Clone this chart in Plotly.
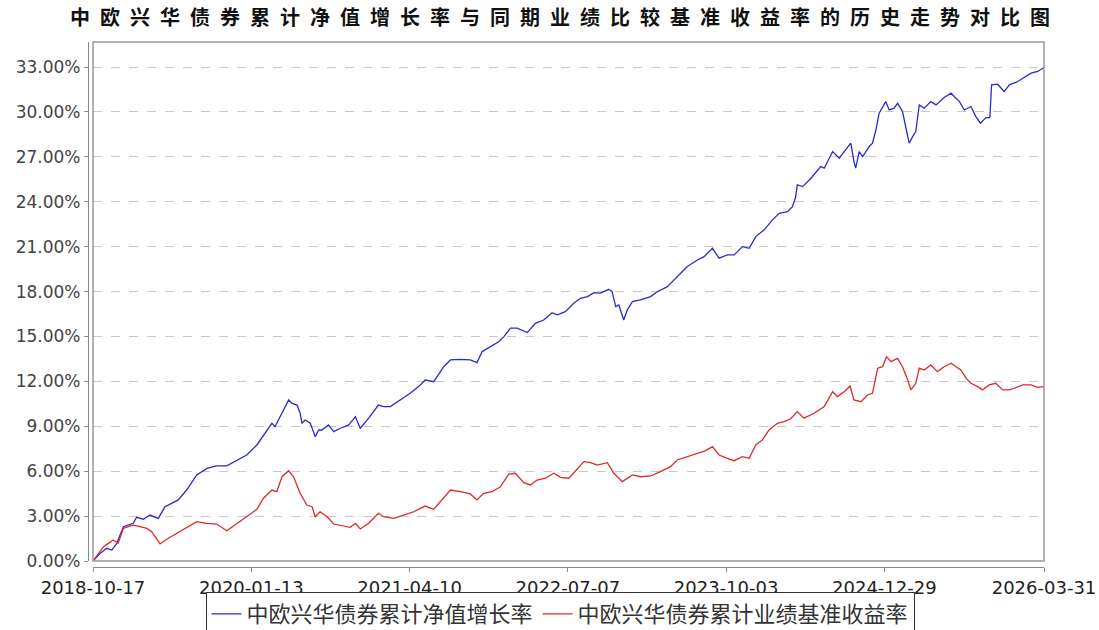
import plotly.graph_objects as go

title_text = "中欧兴华债券累计净值增长率与同期业绩比较基准收益率的历史走势对比图"
name_fund = "中欧兴华债券累计净值增长率"
name_bench = "中欧兴华债券累计业绩基准收益率"

fund_dates = [
    "2018-10-17", "2018-11-06", "2018-11-25", "2018-12-10", "2018-12-24", "2019-01-12", "2019-02-09",
    "2019-02-19", "2019-03-10", "2019-03-29", "2019-04-22", "2019-05-11", "2019-05-30", "2019-06-18",
    "2019-07-12", "2019-08-10", "2019-09-08", "2019-10-06", "2019-11-04", "2019-12-03", "2019-12-31",
    "2020-01-29", "2020-02-22", "2020-03-12", "2020-03-21", "2020-04-10", "2020-04-29", "2020-05-08",
    "2020-05-23", "2020-06-01", "2020-06-06", "2020-06-15", "2020-06-30", "2020-07-14", "2020-07-24",
    "2020-08-02", "2020-08-21", "2020-09-05", "2020-09-24", "2020-10-18", "2020-11-06", "2020-11-20",
    "2020-12-14", "2021-01-11", "2021-01-26", "2021-02-14", "2021-03-15", "2021-04-12", "2021-05-06",
    "2021-05-25", "2021-06-18", "2021-07-17", "2021-08-05", "2021-09-03", "2021-10-01", "2021-10-20",
    "2021-11-04", "2021-11-28", "2021-12-21", "2022-01-05", "2022-01-24", "2022-02-12", "2022-03-13",
    "2022-04-05", "2022-04-29", "2022-05-23", "2022-06-07", "2022-06-30", "2022-07-24", "2022-08-12",
    "2022-09-01", "2022-09-20", "2022-10-09", "2022-11-01", "2022-11-11", "2022-11-21", "2022-11-30",
    "2022-12-14", "2022-12-24", "2023-01-08", "2023-01-31", "2023-03-01", "2023-03-20", "2023-04-18",
    "2023-05-16", "2023-06-14", "2023-07-13", "2023-08-01", "2023-08-25", "2023-09-13", "2023-10-07",
    "2023-10-26", "2023-11-19", "2023-12-08", "2023-12-27", "2024-01-20", "2024-02-13", "2024-03-03",
    "2024-03-27", "2024-04-10", "2024-04-19", "2024-04-24", "2024-05-09", "2024-06-02", "2024-06-30",
    "2024-07-10", "2024-08-03", "2024-08-22", "2024-09-05", "2024-09-24", "2024-10-03", "2024-10-08",
    "2024-10-18", "2024-10-28", "2024-11-16", "2024-11-25", "2024-12-05", "2024-12-14", "2025-01-02",
    "2025-01-12", "2025-01-26", "2025-02-05", "2025-02-19", "2025-03-01", "2025-03-10", "2025-03-20",
    "2025-03-29", "2025-04-08", "2025-04-22", "2025-05-11", "2025-05-26", "2025-06-18", "2025-07-08",
    "2025-07-17", "2025-08-01", "2025-08-15", "2025-09-03", "2025-09-17", "2025-09-30", "2025-10-16",
    "2025-10-27", "2025-11-01", "2025-11-18", "2025-12-07", "2025-12-22", "2026-01-15", "2026-01-29",
    "2026-02-22", "2026-03-13", "2026-03-31",
]
fund_values = [
    0.0, 0.5, 0.85, 0.73, 1.18, 2.29, 2.52,
    2.92, 2.79, 3.07, 2.85, 3.63, 3.85, 4.08,
    4.74, 5.75, 6.19, 6.35, 6.35, 6.75, 7.08,
    7.75, 8.53, 9.2, 8.97, 9.87, 10.76, 10.54,
    10.42, 9.87, 9.2, 9.42, 9.2, 8.31, 8.75,
    8.75, 9.09, 8.64, 8.87, 9.09, 9.64, 8.87,
    9.54, 10.42, 10.31, 10.31, 10.76, 11.2, 11.65,
    12.09, 11.98, 12.98, 13.43, 13.47, 13.43, 13.25,
    13.99, 14.32, 14.65, 14.99, 15.55, 15.55, 15.26,
    15.88, 16.1, 16.59, 16.44, 16.66, 17.22, 17.55,
    17.66, 17.93, 17.89, 18.15, 17.99, 16.99, 17.1,
    16.1, 16.77, 17.33, 17.44, 17.66, 17.99, 18.33,
    19.0, 19.67, 20.11, 20.33, 20.89, 20.23, 20.45,
    20.45, 21.0, 20.89, 21.67, 22.12, 22.79, 23.23,
    23.34, 23.67, 24.3, 25.12, 25.01, 25.57, 26.35,
    26.24, 27.35, 26.91, 27.35, 27.91, 26.68, 26.24,
    27.35, 27.02, 27.69, 27.91, 28.8, 29.92, 30.69,
    30.13, 30.25, 30.58, 30.02, 29.02, 27.91, 28.35,
    28.69, 30.47, 30.25, 30.69, 30.47, 30.96, 31.25,
    31.03, 30.69, 30.13, 30.36, 29.69, 29.25, 29.62,
    29.62, 31.81, 31.85, 31.36, 31.81, 32.03, 32.25,
    32.59, 32.7, 32.96,
]

bench_dates = [
    "2018-10-17", "2018-11-01", "2018-11-16", "2018-11-30", "2018-12-14", "2018-12-28", "2019-01-12",
    "2019-01-26", "2019-02-09", "2019-03-01", "2019-03-20", "2019-04-03", "2019-04-18", "2019-04-27",
    "2019-05-16", "2019-06-14", "2019-07-12", "2019-08-10", "2019-09-08", "2019-10-06", "2019-11-04",
    "2019-12-03", "2019-12-31", "2020-01-29", "2020-02-17", "2020-03-12", "2020-03-26", "2020-04-10",
    "2020-04-29", "2020-05-13", "2020-06-01", "2020-06-20", "2020-07-05", "2020-07-14", "2020-07-28",
    "2020-08-17", "2020-09-05", "2020-09-29", "2020-10-22", "2020-11-06", "2020-11-20", "2020-12-14",
    "2021-01-11", "2021-01-26", "2021-02-23", "2021-03-24", "2021-04-22", "2021-05-11", "2021-05-25",
    "2021-06-18", "2021-07-12", "2021-08-05", "2021-09-03", "2021-10-01", "2021-10-20", "2021-11-08",
    "2021-12-02", "2021-12-26", "2022-01-19", "2022-02-07", "2022-03-03", "2022-03-22", "2022-04-10",
    "2022-05-04", "2022-05-28", "2022-06-16", "2022-07-10", "2022-08-03", "2022-08-22", "2022-09-10",
    "2022-09-29", "2022-10-28", "2022-11-16", "2022-12-10", "2023-01-08", "2023-01-31", "2023-03-01",
    "2023-03-29", "2023-04-27", "2023-05-16", "2023-06-14", "2023-07-13", "2023-08-06", "2023-08-25",
    "2023-09-13", "2023-10-07", "2023-10-26", "2023-11-19", "2023-12-08", "2023-12-27", "2024-01-15",
    "2024-02-03", "2024-02-27", "2024-03-17", "2024-04-05", "2024-04-24", "2024-05-13", "2024-06-11",
    "2024-07-10", "2024-08-03", "2024-08-17", "2024-09-05", "2024-09-22", "2024-10-03", "2024-10-23",
    "2024-11-11", "2024-11-25", "2024-12-10", "2024-12-24", "2025-01-04", "2025-01-17", "2025-02-05",
    "2025-02-19", "2025-03-06", "2025-03-15", "2025-03-29", "2025-04-08", "2025-04-22", "2025-05-11",
    "2025-05-30", "2025-06-18", "2025-07-08", "2025-07-22", "2025-08-05", "2025-08-20", "2025-09-03",
    "2025-09-22", "2025-10-06", "2025-10-25", "2025-11-13", "2025-12-03", "2025-12-22", "2026-01-05",
    "2026-01-29", "2026-02-22", "2026-03-13", "2026-03-31",
]
bench_values = [
    0.0, 0.51, 0.96, 1.18, 1.4, 1.18, 2.18,
    2.29, 2.4, 2.29, 2.18, 1.96, 1.4, 1.14,
    1.45, 1.85, 2.18, 2.63, 2.52, 2.47, 2.02,
    2.52, 2.96, 3.45, 4.19, 4.74, 4.63, 5.63,
    6.03, 5.63, 4.52, 3.74, 3.63, 2.96, 3.29,
    2.96, 2.47, 2.36, 2.25, 2.52, 2.14, 2.52,
    3.19, 2.96, 2.85, 3.07, 3.29, 3.52, 3.67,
    3.45, 4.08, 4.74, 4.63, 4.48, 4.08, 4.52,
    4.63, 4.96, 5.81, 5.86, 5.23, 5.08, 5.41,
    5.53, 5.86, 5.59, 5.53, 6.19, 6.64, 6.57,
    6.41, 6.57, 5.86, 5.3, 5.75, 5.63, 5.68,
    5.97, 6.3, 6.75, 6.97, 7.2, 7.37, 7.64,
    7.08, 6.86, 6.7, 6.97, 6.86, 7.75, 8.09,
    8.75, 9.2, 9.31, 9.5, 9.98, 9.54, 9.87,
    10.31, 11.31, 10.98, 11.31, 11.69, 10.76, 10.64,
    11.09, 11.2, 12.88, 12.98, 13.65, 13.32, 13.54,
    12.98, 12.09, 11.43, 11.87, 12.88, 12.76, 13.1,
    12.65, 12.98, 13.21, 12.98, 12.76, 12.21, 11.87,
    11.65, 11.43, 11.76, 11.87, 11.43, 11.43, 11.54,
    11.76, 11.76, 11.6, 11.65,
]

x_tick_dates = ["2018-10-17", "2020-01-13", "2021-04-10", "2022-07-07", "2023-10-03", "2024-12-29", "2026-03-31"]
y_tick_values = [0, 3, 6, 9, 12, 15, 18, 21, 24, 27, 30, 33]
y_tick_labels = [f"{v:.2f}%" for v in y_tick_values]

fig = go.Figure()
fig.add_trace(go.Scatter(x=fund_dates, y=fund_values, mode="lines", name=name_fund,
                         line=dict(color="#2a2ad2", width=1.3)))
fig.add_trace(go.Scatter(x=bench_dates, y=bench_values, mode="lines", name=name_bench,
                         line=dict(color="#e02828", width=1.3)))

W, H = 1099, 630
ml, mr, mt, mb = 88, 55, 42, 63
pw, ph = W - ml - mr, H - mt - mb

fig.update_layout(
    width=W, height=H,
    margin=dict(l=ml, r=mr, t=mt, b=mb, pad=0, autoexpand=False),
    paper_bgcolor="white", plot_bgcolor="white",
    font=dict(family="Noto Sans CJK SC, DejaVu Sans, sans-serif", color="#333"),
    title=dict(text=title_text, x=565 / W, xref="container", xanchor="center",
               y=1 - 18 / H, yref="container", yanchor="middle",
               font=dict(family="Noto Sans CJK SC", size=20, color="#111", weight="bold")),
    showlegend=True,
    legend=dict(orientation="h", x=(560 - ml) / pw, xanchor="center", y=-25 / ph, yanchor="top",
                bordercolor="#333", borderwidth=1, bgcolor="white",
                font=dict(family="Noto Sans CJK SC", size=22, color="#333"),
                itemwidth=30, tracegroupgap=0),
    xaxis=dict(type="date", domain=[5 / pw, 1], range=["2018-10-17", "2026-03-31"],
               anchor="free", position=0,
               tickmode="array", tickvals=x_tick_dates, ticktext=x_tick_dates,
               showgrid=False, zeroline=False, showline=True, linecolor="#888", linewidth=1.2,
               ticks="outside", ticklen=4, tickcolor="#888",
               tickfont=dict(family="DejaVu Sans", size=18, color="#222")),
    yaxis=dict(domain=[6 / ph, 1], range=[0, 34.67], anchor="free", position=0,
               tickmode="array", tickvals=y_tick_values, ticktext=y_tick_labels,
               showgrid=True, gridcolor="#c8c8c8", griddash="dash", gridwidth=1,
               zeroline=False, showline=True, linecolor="#888", linewidth=1.2,
               ticks="outside", ticklen=4, tickcolor="#888",
               tickfont=dict(family="DejaVu Sans", size=17, color="#444")),
    shapes=[dict(type="rect", xref="x domain", yref="y domain", x0=0, x1=1, y0=0, y1=1,
                 line=dict(color="#999", width=1.5), fillcolor="rgba(0,0,0,0)", layer="above")],
)

post = """
document.body.style.margin = '0';
document.body.style.overflow = 'hidden';
var gd = document.getElementById('{plot_id}');
function ls(){ gd.querySelectorAll('.gtitle').forEach(function(t){ t.style.letterSpacing='10px'; }); }
ls(); if (gd.on) { gd.on('plotly_afterplot', ls); } setTimeout(ls, 50);
"""
fig.write_html("out.html", post_script=post, config={"displayModeBar": False})
